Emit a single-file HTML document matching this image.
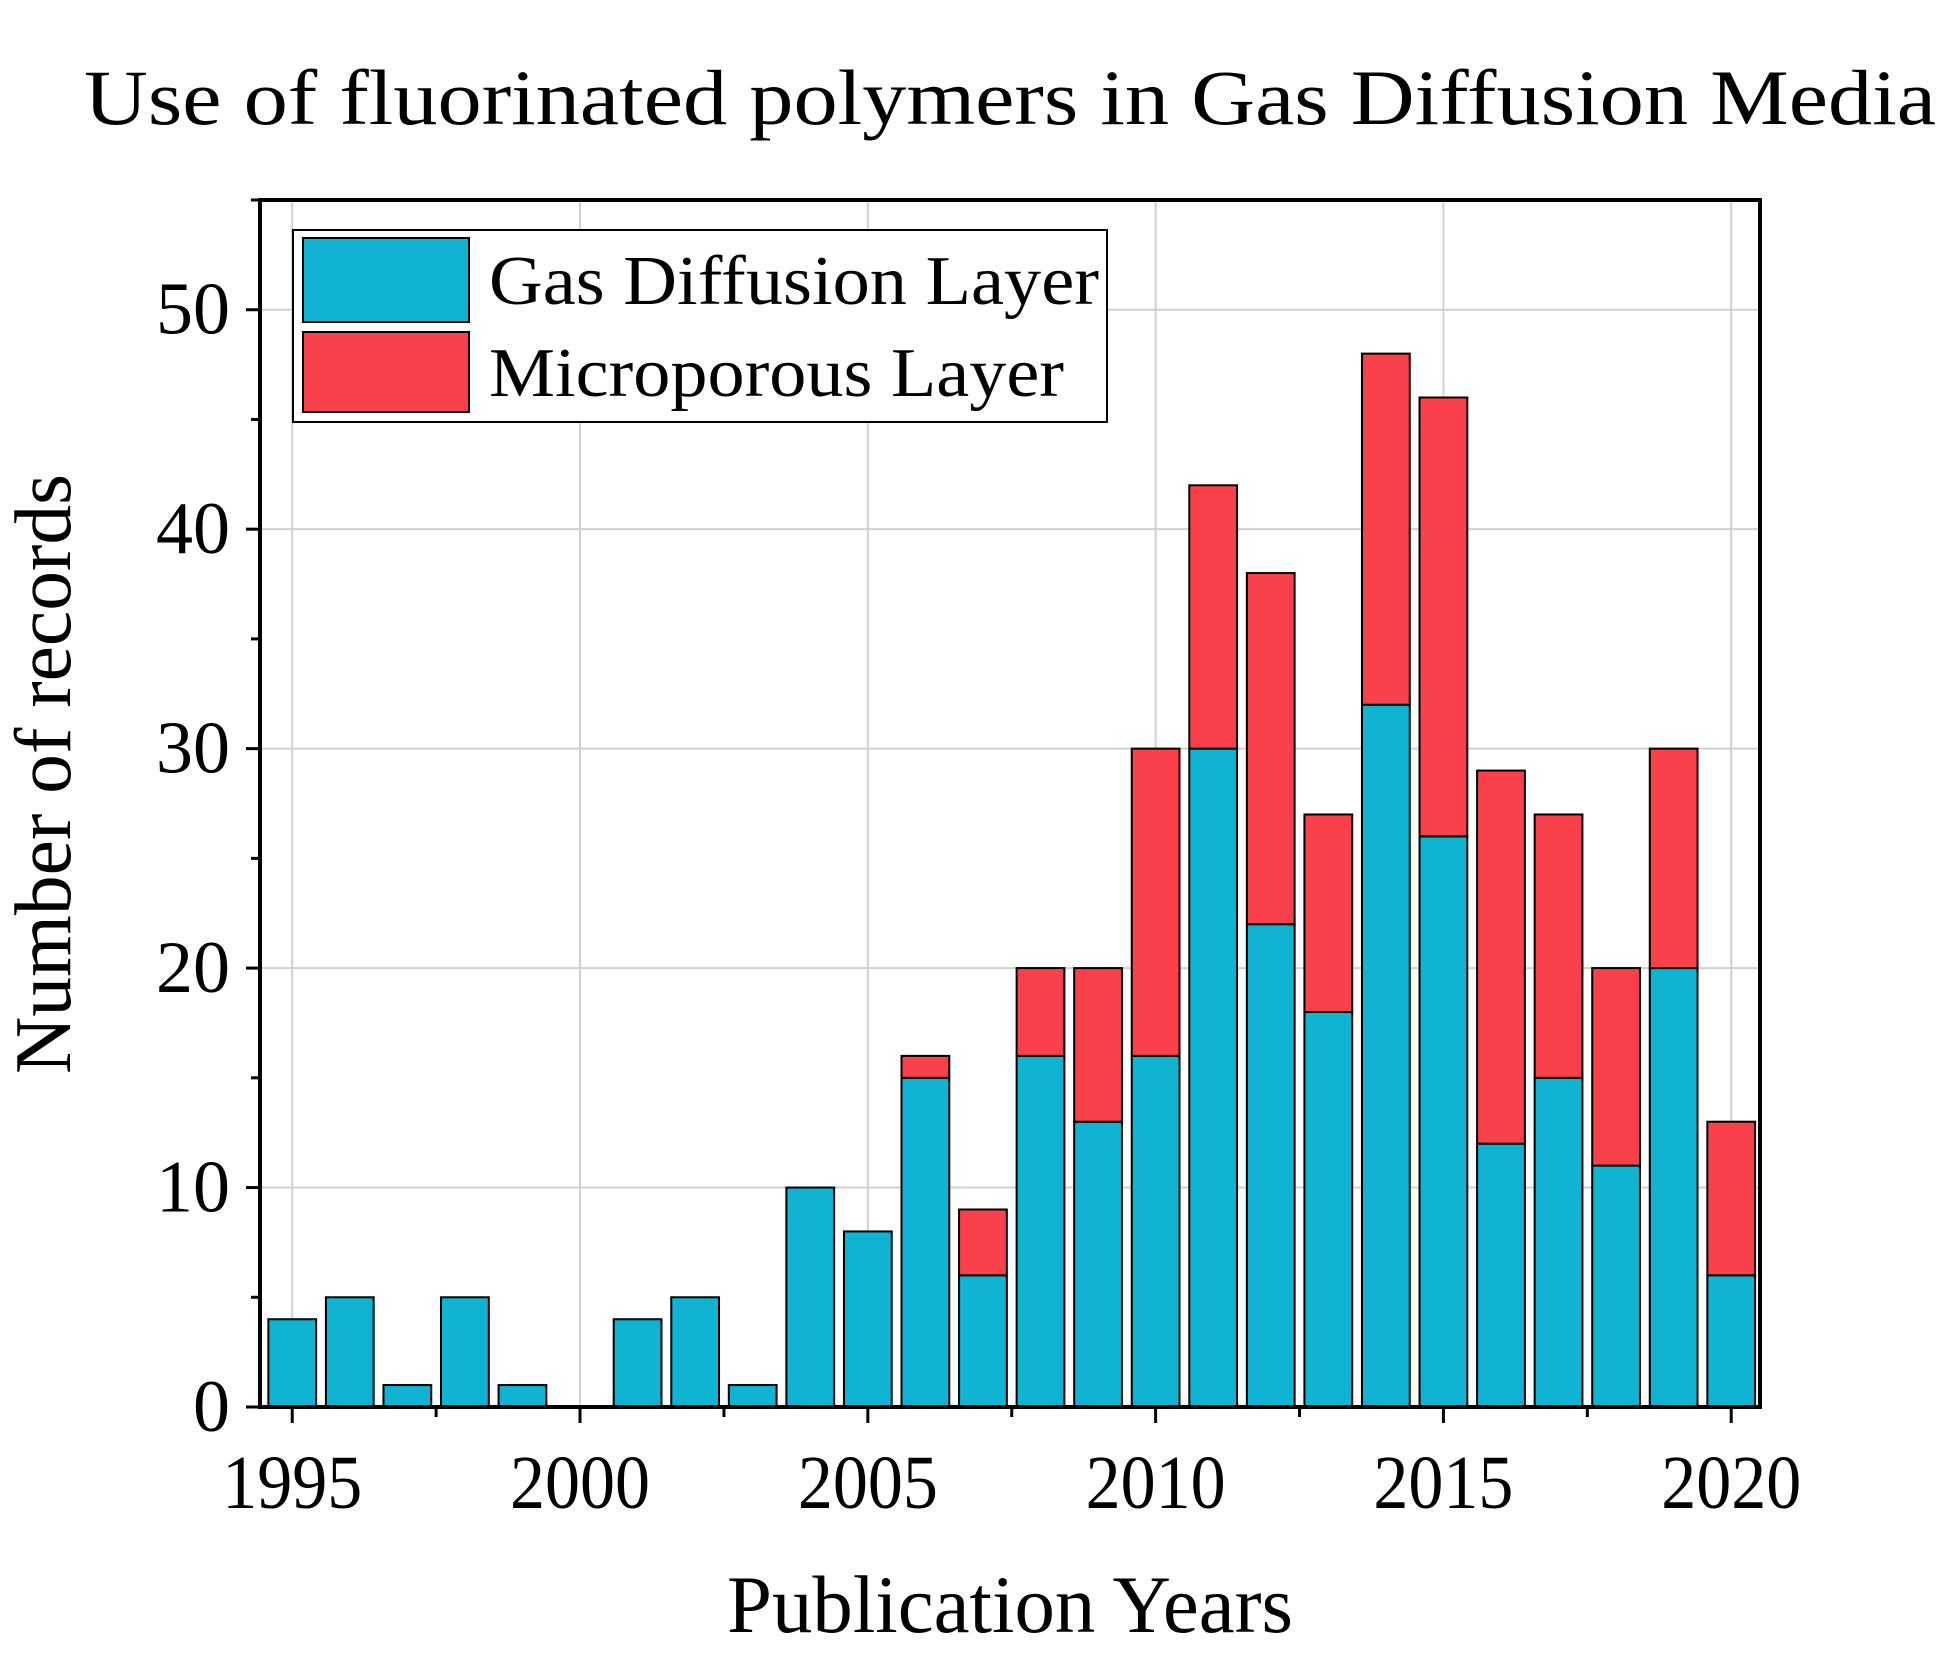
<!DOCTYPE html>
<html><head><meta charset="utf-8"><style>
html,body{margin:0;padding:0;background:#fff;}
svg{display:block;font-family:"Liberation Serif",serif;}
</style></head><body>
<svg id="chart" width="1957" height="1676" viewBox="0 0 1957 1676" xmlns="http://www.w3.org/2000/svg">
<text x="84" y="124" font-size="78" textLength="1852" lengthAdjust="spacingAndGlyphs">Use of fluorinated polymers in Gas Diffusion Media</text>
<g id="grid"></g>
<g id="bars"></g>
<g id="axes"></g>
<g>
<rect x="293" y="230" width="814" height="192" fill="#fff" stroke="#000" stroke-width="2"/>
<rect x="303" y="238" width="166" height="84" fill="#10b4d2" stroke="#000" stroke-width="2"/>
<text x="489" y="304" font-size="70" textLength="610" lengthAdjust="spacingAndGlyphs">Gas Diffusion Layer</text>
<rect x="303" y="332" width="166" height="80" fill="#f9404b" stroke="#000" stroke-width="2"/>
<text x="489" y="396" font-size="70" textLength="575" lengthAdjust="spacingAndGlyphs">Microporous Layer</text>
</g>
<text transform="translate(70,774) rotate(-90)" text-anchor="middle" font-size="80" textLength="600" lengthAdjust="spacingAndGlyphs">Number of records</text>
<text x="1010" y="1632" text-anchor="middle" font-size="82" textLength="566" lengthAdjust="spacingAndGlyphs">Publication Years</text>
</svg>
<script>
const years=[1995,1996,1997,1998,1999,2000,2001,2002,2003,2004,2005,2006,2007,2008,2009,2010,2011,2012,2013,2014,2015,2016,2017,2018,2019,2020];
const gdlValues=[4,5,1,5,1,0,4,5,1,10,8,15,6,16,13,16,30,22,18,32,26,12,15,11,20,6];
const mplValues=[0,0,0,0,0,0,0,0,0,0,0,1,3,4,7,14,12,16,9,16,20,17,12,9,10,7];
const yTicks=[0,10,20,30,40,50];
const xTicks=[1995,2000,2005,2010,2015,2020];
const NS='http://www.w3.org/2000/svg';
const L=260,R=1760,T=200,B=1407;
const xMin=1994.44,xMax=2020.5,yMax=55;
const xs=v=>L+(v-xMin)/(xMax-xMin)*(R-L);
const ys=v=>B-v/yMax*(B-T);
function mk(tag,attrs,parent){const e=document.createElementNS(NS,tag);for(const k in attrs)e.setAttribute(k,attrs[k]);parent.appendChild(e);return e;}
const grid=document.getElementById('grid'),bars=document.getElementById('bars'),axes=document.getElementById('axes');
yTicks.forEach(t=>{if(t>0){const g=mk('line',{x1:L,x2:R,y1:ys(t),y2:ys(t),stroke:'#d0d0d0','stroke-width':2},grid);

}});
xTicks.forEach(t=>{const g=mk('line',{x1:xs(t),x2:xs(t),y1:T,y2:B,stroke:'#d0d0d0','stroke-width':2},grid);

});
const bw=(xs(1)-xs(0))*0.83;
years.forEach((yr,i)=>{
  const cx=xs(yr),g=gdlValues[i],m=mplValues[i];
  const r1=mk('rect',{x:cx-bw/2,y:ys(g),width:bw,height:ys(0)-ys(g),fill:'#10b4d2',stroke:'#000','stroke-width':2},bars);
  
  
  if(m>0){const r2=mk('rect',{x:cx-bw/2,y:ys(g+m),width:bw,height:ys(g)-ys(g+m),fill:'#f9404b',stroke:'#000','stroke-width':2},bars);
  
  }
});
const frame=mk('rect',{x:L,y:T,width:R-L,height:B-T,fill:'none',stroke:'#000','stroke-width':4},axes);


for(let v=0;v<=yMax;v+=5){const major=v%10===0;
  const tk=mk('line',{x1:L-(major?14:9),x2:L,y1:ys(v),y2:ys(v),stroke:'#000','stroke-width':3},axes);
  
  }
yTicks.forEach(t=>{const tx=mk('text',{x:L-30,y:ys(t)+24,'text-anchor':'end','font-size':74},axes);tx.textContent=t;
  
  });
for(let v=1995;v<=2020;v+=2.5){const major=(v%5===0);
  const tk=mk('line',{x1:xs(v),x2:xs(v),y1:B,y2:B+(major?16:10),stroke:'#000','stroke-width':3},axes);
  
  }
xTicks.forEach(t=>{const tx=mk('text',{x:xs(t),y:1508,'text-anchor':'middle','font-size':76,textLength:140,lengthAdjust:'spacingAndGlyphs'},axes);tx.textContent=t;
  
  });
</script>
</body></html>
